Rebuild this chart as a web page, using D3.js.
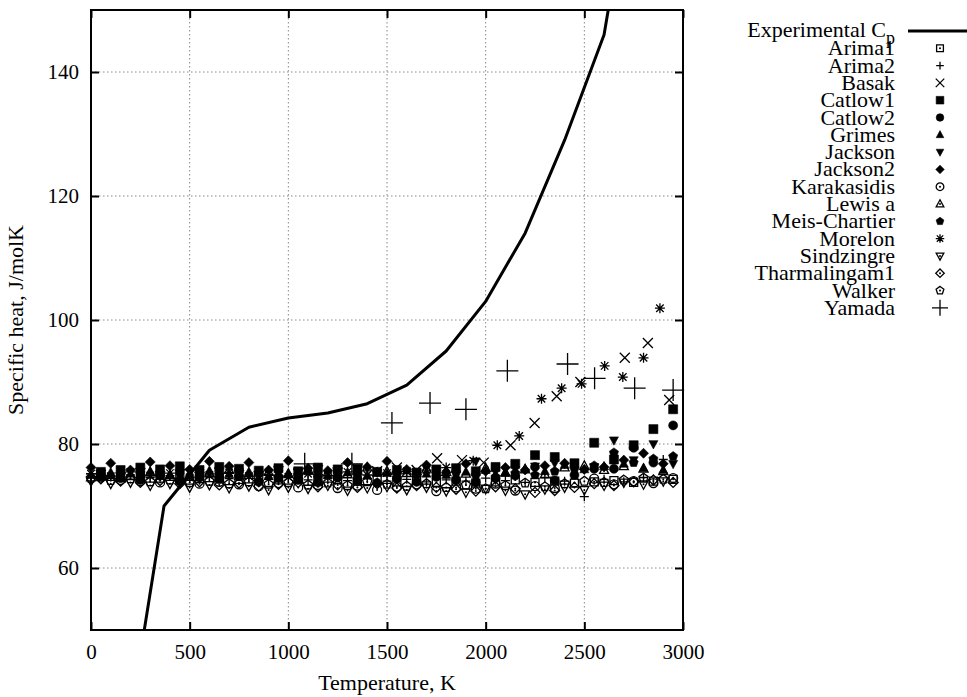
<!DOCTYPE html>
<html>
<head>
<meta charset="utf-8">
<script src="https://cdn.jsdelivr.net/npm/d3@7"></script>
<style>
  body { margin: 0; background: #fff; }
  svg text { font-family: "Liberation Serif", "DejaVu Serif", serif; font-size: 21px; fill: #000; }
</style>
</head>
<body>
<svg id="chart" width="967" height="697"></svg>
<script>
// ---- data ----
var xTicks = [0, 500, 1000, 1500, 2000, 2500, 3000];
var yTicks = [60, 80, 100, 120, 140];

// experimental Cp curve
var expT  = [250, 370, 600, 800, 1000, 1200, 1400, 1600, 1800, 2000, 2200, 2400, 2600, 2700];
var expCp = [46, 70, 79, 82.7, 84.2, 85, 86.5, 89.5, 95, 103, 114, 129, 146, 165];

// temperature grids most of the simulations were run on
var tempsA = [0, 100, 200, 300, 400, 500, 600, 700, 800, 900, 1000, 1100, 1200, 1300, 1400,
              1500, 1600, 1700, 1800, 1900, 2000, 2100, 2200, 2300, 2400, 2500, 2600, 2700, 2800, 2900];
var tempsB = [50, 150, 250, 350, 450, 550, 650, 750, 850, 950, 1050, 1150, 1250, 1350, 1450,
              1550, 1650, 1750, 1850, 1950, 2050, 2150, 2250, 2350, 2450, 2550, 2650, 2750, 2850, 2950];

var arima1Cp = [74.8, 74.6, 74.9, 74.5, 74.7, 74.4, 74.6, 74.3, 74.5, 74.2, 74.4, 74.1, 74.3, 74.0, 74.2,
                73.9, 74.1, 73.8, 74.0, 73.7, 73.9, 74.2, 73.8, 74.0, 73.7, 73.9, 74.1, 73.8, 74.0, 74.3];
var arima2Cp = [75.2, 74.8, 75.0, 74.6, 74.9, 74.5, 74.7, 74.4, 74.8, 74.3, 74.6, 74.2, 74.5, 74.1, 74.4,
                74.0, 74.3, 73.9, 74.2, 74.0, 74.5, 74.1, 73.8, 74.6, 74.0, 71.5, 74.3, 73.9, 74.6, 77.5];
var basakT  = [50, 150, 250, 350, 450, 550, 650, 750, 850, 950, 1050, 1150, 1250, 1350, 1450,
               1550, 1650, 1754, 1880, 1990, 2126, 2248, 2360, 2480, 2705, 2822, 2930];
var basakCp = [75.0, 74.6, 75.3, 74.8, 75.1, 74.7, 75.4, 75.0, 74.8, 75.6, 75.2, 75.8, 75.4, 75.9, 75.6,
               76.2, 75.8, 77.7, 77.4, 77.0, 79.8, 83.4, 87.7, 90.0, 93.9, 96.3, 87.1];
var catlow1Cp = [75.5, 75.8, 76.2, 75.9, 76.4, 75.8, 76.3, 76.0, 75.7, 76.1, 75.6, 76.2, 75.9, 76.0, 75.5,
                 75.8, 75.4, 75.9, 76.1, 75.6, 76.3, 76.8, 78.2, 77.9, 76.9, 80.2, 77.5, 79.8, 82.4, 85.6];
var catlow2Cp = [74.8, 74.5, 74.2, 74.9, 74.0, 74.6, 74.3, 74.8, 73.9, 74.5, 74.2, 73.8, 74.6, 74.0, 73.7,
                 74.4, 73.9, 74.7, 74.2, 73.8, 74.5, 74.9, 76.3, 74.1, 75.0, 76.0, 76.0, 79.4, 77.0, 83.0];
var grimesCp = [75.0, 75.4, 75.2, 75.6, 74.9, 75.3, 75.7, 75.1, 75.5, 74.8, 75.2, 75.6, 75.0, 75.4, 74.9,
                75.3, 75.7, 75.2, 75.0, 75.5, 75.8, 75.3, 76.0, 75.6, 76.6, 75.9, 76.4, 76.8, 76.1, 75.8];
var jacksonCp = [75.3, 74.9, 75.6, 75.1, 74.8, 75.4, 75.0, 75.5, 74.7, 75.2, 75.6, 74.9, 75.3, 75.0, 75.4,
                 74.8, 75.2, 75.7, 75.1, 77.2, 75.5, 75.9, 76.4, 76.9, 75.8, 76.3, 80.6, 77.4, 80.0, 76.8];
var jackson2Cp = [76.2, 76.9, 75.8, 77.1, 76.5, 75.9, 77.2, 76.4, 77.0, 75.8, 77.3, 76.1, 75.7, 77.0, 76.3,
                  77.2, 75.9, 76.6, 75.4, 76.8, 75.6, 76.2, 75.8, 76.5, 76.9, 75.9, 76.3, 77.4, 78.5, 76.8];
var karakasidisCp = [74.6, 74.2, 74.0, 73.8, 74.1, 73.6, 73.9, 73.5, 73.2, 73.7, 73.0, 73.4, 72.9, 73.3, 72.6,
                     73.1, 73.5, 72.4, 73.0, 72.8, 73.6, 72.5, 73.2, 72.9, 73.8, 74.4, 73.5, 74.0, 73.7, 74.5];
var lewisCp = [74.6, 75.0, 74.8, 75.4, 75.0, 74.7, 75.3, 75.8, 75.0, 75.5, 75.2, 75.9, 75.4, 75.1, 76.2,
               75.6, 75.3, 76.0, 75.5, 75.2, 76.1, 75.4, 75.9, 75.1, 76.2, 76.5, 75.8, 76.4, 76.0, 75.6];
var meisCp = [75.0, 74.6, 75.2, 74.9, 75.4, 74.7, 75.1, 74.8, 75.3, 74.5, 75.0, 74.7, 75.2, 74.9, 75.5,
              74.6, 75.1, 74.8, 75.4, 75.0, 74.7, 75.3, 75.0, 75.6, 76.0, 76.5, 78.6, 77.0, 77.6, 78.0];
var morelonT  = [0, 100, 200, 300, 400, 500, 600, 700, 800, 900, 1000, 1100, 1200, 1300, 1400,
                 1500, 1600, 1700, 1800, 1937, 2059, 2170, 2283, 2385, 2486, 2603, 2695, 2800, 2883];
var morelonCp = [75.2, 74.8, 75.5, 74.9, 75.3, 74.6, 75.0, 75.4, 74.8, 75.1, 74.7, 75.2, 74.9, 75.5, 75.0,
                 75.3, 75.6, 75.8, 76.2, 77.3, 79.8, 81.3, 87.3, 89.0, 89.7, 92.6, 90.8, 93.9, 101.9];
var sindzingreCp = [74.0, 73.6, 73.8, 73.3, 73.6, 73.0, 73.4, 72.9, 73.2, 72.6, 73.0, 72.8, 73.3, 72.5, 72.9,
                    73.1, 72.6, 73.0, 72.4, 72.2, 72.8, 72.5, 71.9, 72.7, 73.0, 72.6, 73.3, 73.8, 73.5, 74.0];
var tharmaCp = [74.4, 74.0, 73.8, 74.1, 73.6, 73.9, 73.4, 73.7, 73.2, 73.5, 73.8, 73.1, 73.4, 73.0, 73.6,
                72.9, 73.3, 73.0, 72.7, 72.4, 73.1, 72.8, 72.2, 72.5, 73.0, 73.6, 73.3, 73.9, 74.2, 73.8];
var walkerCp = [74.5, 74.1, 74.4, 73.9, 74.2, 73.8, 74.0, 73.6, 73.9, 73.5, 73.8, 73.4, 73.7, 73.3, 73.9,
                73.5, 73.2, 73.6, 73.0, 73.4, 72.8, 73.3, 73.7, 73.1, 73.6, 74.0, 73.8, 74.2, 74.5, 74.3];
var yamadaT  = [1083, 1322, 1525, 1718, 1900, 2110, 2415, 2552, 2755, 2950];
var yamadaCp = [76.8, 76.8, 83.4, 86.6, 85.6, 91.8, 92.9, 90.6, 89.0, 88.7];

var seriesNames = ["Arima1", "Arima2", "Basak", "Catlow1", "Catlow2", "Grimes", "Jackson", "Jackson2",
                   "Karakasidis", "Lewis a", "Meis-Chartier", "Morelon", "Sindzingre", "Tharmalingam1",
                   "Walker", "Yamada"];
var seriesT  = [tempsB, tempsA, basakT, tempsB, tempsB, tempsA, tempsB, tempsA,
                tempsB, tempsA, tempsB, morelonT, tempsA, tempsB, tempsA, yamadaT];
var seriesCp = [arima1Cp, arima2Cp, basakCp, catlow1Cp, catlow2Cp, grimesCp, jacksonCp, jackson2Cp,
                karakasidisCp, lewisCp, meisCp, morelonCp, sindzingreCp, tharmaCp, walkerCp, yamadaCp];

// ---- point styles (gnuplot-like) ----
var styles = [
  {shape: "square",   fill: false, dot: true,  r: 4},
  {shape: "plus",     fill: false, dot: false, r: 4.5},
  {shape: "cross",    fill: false, dot: false, r: 5},
  {shape: "square",   fill: true,  dot: false, r: 4.5},
  {shape: "circle",   fill: true,  dot: false, r: 4.5},
  {shape: "triUp",    fill: true,  dot: false, r: 4.5},
  {shape: "triDown",  fill: true,  dot: false, r: 4.5},
  {shape: "diamond",  fill: true,  dot: false, r: 5},
  {shape: "circle",   fill: false, dot: true,  r: 4.5},
  {shape: "triUp",    fill: false, dot: true,  r: 4.5},
  {shape: "pentagon", fill: true,  dot: false, r: 4.8},
  {shape: "star",     fill: false, dot: false, r: 5},
  {shape: "triDown",  fill: false, dot: true,  r: 4.5},
  {shape: "diamond",  fill: false, dot: true,  r: 5},
  {shape: "pentagon", fill: false, dot: true,  r: 4.8},
  {shape: "plus",     fill: false, dot: false, r: 11}
];

function shapePath(kind, r) {
  if (kind === "square") return "M" + (-r) + "," + (-r) + "H" + r + "V" + r + "H" + (-r) + "Z";
  if (kind === "circle") { var p = d3.path(); p.arc(0, 0, r, 0, 2 * Math.PI); p.closePath(); return p.toString(); }
  if (kind === "triUp") return "M0," + (-r * 1.1) + "L" + r + "," + (r * 0.75) + "L" + (-r) + "," + (r * 0.75) + "Z";
  if (kind === "triDown") return "M0," + (r * 1.1) + "L" + r + "," + (-r * 0.75) + "L" + (-r) + "," + (-r * 0.75) + "Z";
  if (kind === "diamond") return "M0," + (-r) + "L" + r + ",0L0," + r + "L" + (-r) + ",0Z";
  if (kind === "pentagon") {
    var pts = [0, 1, 2, 3, 4].map(function(i) {
      var a = -Math.PI / 2 + i * 2 * Math.PI / 5;
      return (r * Math.cos(a)).toFixed(2) + "," + (r * Math.sin(a)).toFixed(2);
    });
    return "M" + pts.join("L") + "Z";
  }
  if (kind === "plus") return "M" + (-r) + ",0H" + r + "M0," + (-r) + "V" + r;
  if (kind === "cross") return "M" + (-r) + "," + (-r) + "L" + r + "," + r + "M" + r + "," + (-r) + "L" + (-r) + "," + r;
  if (kind === "star") {
    var c = r * 0.75;
    return "M" + (-r) + ",0H" + r + "M0," + (-r) + "V" + r +
           "M" + (-c) + "," + (-c) + "L" + c + "," + c + "M" + c + "," + (-c) + "L" + (-c) + "," + c;
  }
}

function drawPoint(sel, st) {
  sel.append("path")
    .attr("d", shapePath(st.shape, st.r))
    .attr("fill", st.fill ? "#000" : "none")
    .attr("stroke", "#000")
    .attr("stroke-width", st.fill ? 0.6 : 1.3);
  if (st.dot) sel.append("circle").attr("r", 1).attr("fill", "#000");
}

// ---- layout ----
var margin = {left: 91, top: 10, right: 683, bottom: 630};
var svg = d3.select("#chart");

var x = d3.scaleLinear().domain([0, 3000]).range([margin.left, margin.right]);
var y = d3.scaleLinear().domain([50, 150]).range([margin.bottom, margin.top]);

svg.append("defs").append("clipPath").attr("id", "plotclip")
  .append("rect")
    .attr("x", margin.left).attr("y", margin.top)
    .attr("width", margin.right - margin.left).attr("height", margin.bottom - margin.top);

// grid
var grid = svg.append("g").attr("stroke", "#888").attr("stroke-width", 1).attr("stroke-dasharray", "1.5,2.5");
grid.selectAll(".vg").data(xTicks.slice(1, -1)).enter().append("line")
  .attr("x1", function(d) { return x(d); }).attr("x2", function(d) { return x(d); })
  .attr("y1", margin.top).attr("y2", margin.bottom);
grid.selectAll(".hg").data(yTicks).enter().append("line")
  .attr("y1", function(d) { return y(d); }).attr("y2", function(d) { return y(d); })
  .attr("x1", margin.left).attr("x2", margin.right);

// axes, gnuplot style: ticks inward on all four sides
var xAxis = d3.axisBottom(x).tickValues(xTicks).tickSize(-8).tickPadding(14).tickFormat(d3.format("d"));
var yAxis = d3.axisLeft(y).tickValues(yTicks).tickSize(-8).tickPadding(12).tickFormat(d3.format("d"));

svg.append("g").attr("class", "x axis")
  .attr("transform", "translate(0," + margin.bottom + ")").call(xAxis);
svg.append("g").attr("class", "y axis")
  .attr("transform", "translate(" + margin.left + ",0)").call(yAxis);
svg.append("g").attr("transform", "translate(0," + margin.top + ")")
  .call(d3.axisTop(x).tickValues(xTicks).tickSize(-8).tickFormat(""));
svg.append("g").attr("transform", "translate(" + margin.right + ",0)")
  .call(d3.axisRight(y).tickValues(yTicks).tickSize(-8).tickFormat(""));

svg.selectAll(".domain").remove();
svg.selectAll(".tick line").attr("stroke", "#000").attr("stroke-width", 2);
svg.selectAll(".tick text").style("font-family", "'Liberation Serif', serif").style("font-size", "21px").attr("fill", "#000");

// experimental curve
var line = d3.line().x(function(d, i) { return x(expT[i]); }).y(function(d) { return y(d); });
svg.append("path")
  .attr("clip-path", "url(#plotclip)")
  .attr("d", line(expCp))
  .attr("fill", "none").attr("stroke", "#000").attr("stroke-width", 3)
  .attr("stroke-linejoin", "round");

// simulation points
seriesNames.forEach(function(name, s) {
  var g = svg.append("g").attr("class", "series");
  var pts = g.selectAll("g").data(seriesCp[s]).enter().append("g")
    .attr("transform", function(d, i) { return "translate(" + x(seriesT[s][i]) + "," + y(d) + ")"; });
  pts.each(function() { drawPoint(d3.select(this), styles[s]); });
});

// border
svg.append("rect")
  .attr("x", margin.left).attr("y", margin.top)
  .attr("width", margin.right - margin.left).attr("height", margin.bottom - margin.top)
  .attr("fill", "none").attr("stroke", "#000").attr("stroke-width", 2);

// axis titles
svg.append("text").attr("x", (margin.left + margin.right) / 2).attr("y", 690)
  .style("font-size", "22px").attr("text-anchor", "middle").text("Temperature, K");
svg.append("text")
  .attr("transform", "translate(23," + ((margin.top + margin.bottom) / 2) + ") rotate(-90)")
  .style("font-size", "22px").attr("text-anchor", "middle").text("Specific heat, J/molK");

// legend
var legX = 895, legSym = 940, legY0 = 31, legStep = 17.3;
var lt = svg.append("text").attr("x", legX).attr("y", legY0 + 6).attr("text-anchor", "end")
  .style("font-size", "22px");
lt.append("tspan").text("Experimental C");
lt.append("tspan").attr("dy", 7).style("font-size", "18px").text("p");
svg.append("line").attr("x1", 908).attr("x2", 967).attr("y1", legY0).attr("y2", legY0)
  .attr("stroke", "#000").attr("stroke-width", 3);

seriesNames.forEach(function(name, s) {
  var yy = legY0 + legStep * (s + 1);
  svg.append("text").attr("x", legX).attr("y", yy + 7).attr("text-anchor", "end")
    .style("font-size", "22px").text(name);
  var st = Object.assign({}, styles[s]);
  st.r = s === 15 ? 8 : st.r * 0.85;
  drawPoint(svg.append("g").attr("transform", "translate(" + legSym + "," + yy + ")"), st);
});
</script>
</body>
</html>
